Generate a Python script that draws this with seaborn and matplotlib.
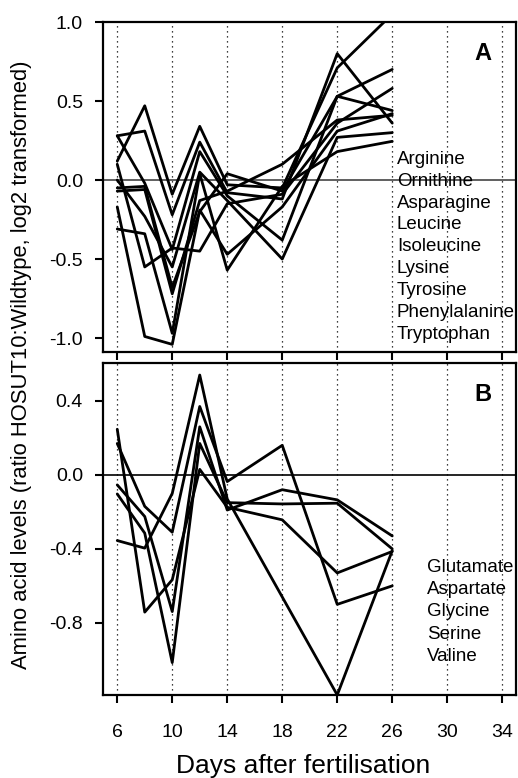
import numpy as np
import pandas as pd
import matplotlib
matplotlib.use('Agg')
import matplotlib.pyplot as plt
import seaborn as sns

# Dias de muestreo
days = [6, 8, 10, 12, 14, 18, 22, 26]

# Panel A: aminoacidos
names_a = ['Arginine', 'Ornithine', 'Asparagine', 'Leucine', 'Isoleucine',
           'Lysine', 'Tyrosine', 'Phenylalanine', 'Tryptophan']
vals_a = [
    [0.12, 0.47, -0.09, 0.34, -0.03, -0.05, 0.71, 1.05],
    [0.28, 0.31, -0.22, 0.24, -0.08, -0.12, 0.80, 0.36],
    [0.28, -0.02, -0.44, 0.18, -0.10, -0.38, 0.53, 0.44],
    [0.00, -0.23, -0.55, 0.05, -0.13, -0.50, 0.27, 0.30],
    [-0.05, -0.04, -0.68, -0.20, 0.04, -0.07, 0.53, 0.70],
    [-0.07, -0.06, -0.72, -0.13, -0.07, 0.10, 0.38, 0.41],
    [0.10, -0.55, -0.43, -0.45, -0.15, -0.09, 0.36, 0.58],
    [-0.17, -0.99, -1.04, -0.19, -0.47, -0.17, 0.31, 0.42],
    [-0.31, -0.34, -0.97, 0.04, -0.57, -0.04, 0.18, 0.245],
]

# Panel B
names_b = ['Glutamate', 'Aspartate', 'Glycine', 'Serine', 'Valine']
vals_b = [
    [-0.355, -0.396, -0.10, 0.54, -0.13, -0.66, -1.19, -0.41],
    [0.17, -0.17, -0.31, 0.37, -0.036, 0.16, -0.70, -0.60],
    [0.247, -0.742, -0.567, 0.03, -0.175, -0.243, -0.53, -0.414],
    [-0.054, -0.225, -0.739, 0.26, -0.19, -0.08, -0.135, -0.33],
    [-0.103, -0.315, -1.015, 0.17, -0.15, -0.157, -0.153, -0.40],
]

xticks = [6, 10, 14, 18, 22, 26, 30, 34]


def to_long(names, vals):
    rows = []
    for n, v in zip(names, vals):
        for d, y in zip(days, v):
            rows.append({'amino': n, 'day': d, 'value': y})
    return pd.DataFrame(rows)


df_a = to_long(names_a, vals_a)
df_b = to_long(names_b, vals_b)

sns.set_style('ticks')
plt.rcParams['font.family'] = ['Liberation Sans', 'DejaVu Sans']
plt.rcParams['text.color'] = 'black'
plt.rcParams['xtick.color'] = 'black'
plt.rcParams['ytick.color'] = 'black'

fig = plt.figure(figsize=(5.18, 7.78), dpi=100)
ax_a = fig.add_axes([0.1998, 0.5472, 0.7963, 0.4245])
ax_b = fig.add_axes([0.1998, 0.1067, 0.7963, 0.4267])


def style_axis(ax, df, ylim, yticks, zero_color, names, leg_y, leg_x, letter):
    for d in xticks:
        ax.axvline(d, color='black', lw=0.9, ls=(0, (1, 3)), zorder=0)
    ax.axhline(0, color=zero_color, lw=1.2, zorder=1)
    sns.lineplot(data=df, x='day', y='value', units='amino', estimator=None,
                 color='black', lw=2.0, legend=False, ax=ax, zorder=2)
    ax.set_xlim(5, 35)
    ax.set_ylim(*ylim)
    ax.set_xticks(xticks)
    ax.set_yticks(yticks)
    ax.set_yticklabels(['%.1f' % t for t in yticks])
    ax.set_xlabel('')
    ax.set_ylabel('')
    for s in ax.spines.values():
        s.set_visible(True)
        s.set_linewidth(1.6)
        s.set_color('black')
    ax.tick_params(direction='out', length=5.8, width=1.5, labelsize=14,
                   colors='black', labelcolor='black')
    ax.tick_params(axis='y', pad=9)
    ax.tick_params(axis='x', pad=15)
    for i, n in enumerate(names):
        ax.text(leg_x, leg_y - i * 0.0665, n, transform=ax.transAxes,
                fontsize=13.5, va='center', ha='left', color='black')
    ax.text(0.921, 0.905, letter, transform=ax.transAxes, fontsize=17,
            fontweight='bold', ha='center', va='center', color='black')


style_axis(ax_a, df_a, (-1.09, 1.0), [-1.0, -0.5, 0.0, 0.5, 1.0], '#444444',
           names_a, 0.585, 0.711, 'A')
style_axis(ax_b, df_b, (-1.19, 0.605), [-0.8, -0.4, 0.0, 0.4], 'black',
           names_b, 0.383, 0.7835, 'B')
ax_a.set_xticklabels([])

fig.text(0.042, 0.5315, 'Amino acid levels (ratio HOSUT10:Wildtype, log2 transformed)',
         rotation=90, ha='center', va='center', fontsize=15.8, color='black')
fig.text(0.585, 0.0155, 'Days after fertilisation', ha='center', va='center',
         fontsize=19, color='black')

fig.savefig('out.png', dpi=100)
